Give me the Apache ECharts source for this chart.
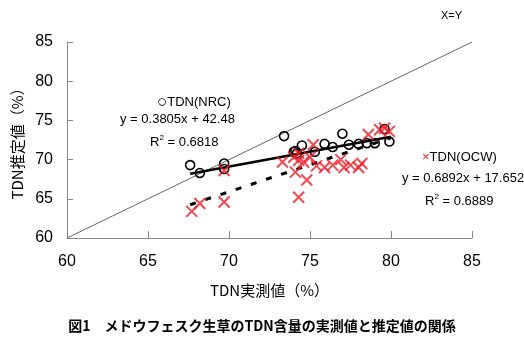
<!DOCTYPE html>
<html>
<head>
<meta charset="utf-8">
<script src="https://cdn.jsdelivr.net/npm/echarts@6/dist/echarts.min.js"></script>
<style>
  html, body { margin: 0; padding: 0; background: #fff; }
  #char { width: 524px; height: 354px; }
</style>
</head>
<body>
<div id="char"></div>
<script>
// TDN(NRC) : [実測値, 推定値]
var nrcData = [
  [67.6, 69.3], [68.2, 68.3], [69.7, 69.5], [69.7, 68.8],
  [73.4, 73.0], [74.0, 71.0], [74.2, 70.8], [74.5, 71.8],
  [74.1, 71.1], [75.3, 71.0], [75.9, 72.0], [76.4, 71.6],
  [77.0, 73.3], [77.4, 71.9], [78.0, 72.0], [78.5, 72.1],
  [79.0, 72.1], [79.6, 73.9], [79.9, 72.3]
];
// TDN(OCW)
var ocwData = [
  [67.7, 63.4], [68.2, 64.4], [69.7, 64.6], [69.7, 68.6],
  [73.3, 69.7], [74.0, 70.3], [74.3, 69.9], [74.3, 70.8],
  [74.1, 68.4], [74.8, 67.4], [74.3, 65.2], [74.6, 69.7],
  [75.0, 70.3], [75.2, 71.9], [75.4, 69.2], [75.9, 69.0],
  [76.4, 69.3], [76.9, 70.0], [77.1, 69.0], [77.5, 69.3],
  [78.0, 69.0], [78.2, 69.5], [78.6, 73.2], [79.3, 73.8],
  [79.6, 74.0], [79.9, 73.6]
];
var xyLine = [[60, 60], [85, 85]];
var nrcFit = [[67.6, 68.20], [80.0, 72.92]];
var ocwFit = [[67.6, 64.24], [80.0, 72.79]];
var axisTicks = [60, 65, 70, 75, 80, 85];

var font = "'Liberation Sans', Arial, 'Noto Sans CJK JP', sans-serif";
var jpFont = "'Noto Sans CJK JP', 'Liberation Sans', sans-serif";

var myChart = echarts.init(document.getElementById("char"));
var option = {
  animation: false,
  backgroundColor: "#fff",
  grid: { left: 67, right: 52, top: 42, bottom: 116 },
  xAxis: {
    type: "value",
    min: axisTicks[0],
    max: axisTicks[axisTicks.length - 1],
    interval: 5,
    name: "TDN実測値（%）",
    nameLocation: "middle",
    nameGap: 45,
    nameTextStyle: { color: "#000", fontSize: 15, fontFamily: jpFont },
    axisLine: { lineStyle: { color: "#888", width: 1 } },
    axisTick: { inside: true, length: 7, lineStyle: { color: "#888" } },
    axisLabel: { color: "#000", fontSize: 16, fontFamily: font, margin: 16 },
    splitLine: { show: false }
  },
  yAxis: {
    type: "value",
    min: axisTicks[0],
    max: axisTicks[axisTicks.length - 1],
    interval: 5,
    name: "TDN推定値（%）",
    nameLocation: "middle",
    nameGap: 42,
    nameRotate: 90,
    nameTextStyle: { color: "#000", fontSize: 15, fontFamily: jpFont },
    axisLine: { show: true, lineStyle: { color: "#888", width: 1 } },
    axisTick: { show: true, inside: true, length: 6, lineStyle: { color: "#888" } },
    axisLabel: { color: "#000", fontSize: 16, fontFamily: font, margin: 14 },
    splitLine: { show: false }
  },
  series: [
    {
      name: "X=Y",
      type: "line",
      data: xyLine,
      symbol: "none",
      lineStyle: { color: "#666", width: 1 },
      z: 1
    },
    {
      name: "NRC回帰",
      type: "line",
      data: nrcFit,
      symbol: "none",
      lineStyle: { color: "#000", width: 2.5 },
      z: 3
    },
    {
      name: "OCW回帰",
      type: "line",
      data: ocwFit,
      symbol: "none",
      lineStyle: { color: "#000", width: 3, type: [6, 10] },
      z: 3
    },
    {
      name: "TDN(NRC)",
      type: "scatter",
      data: nrcData,
      symbol: "circle",
      symbolSize: 9,
      itemStyle: { color: "rgba(0,0,0,0)", borderColor: "#000", borderWidth: 1.6, opacity: 1 },
      z: 4
    },
    {
      name: "TDN(OCW)",
      type: "scatter",
      data: ocwData,
      symbol: "path://M0,0L10,10M10,0L0,10",
      symbolSize: 11,
      itemStyle: { color: "none", borderColor: "#ee1c25", borderWidth: 2 },
      z: 5
    }
  ],
  graphic: [
    { type: "text", left: 441, top: 10, style: { text: "X=Y", fontSize: 11, fontFamily: font, fill: "#000" } },
    { type: "text", left: 157, top: 94, style: {
      text: "{c|○}TDN(NRC)", fontSize: 13, fontFamily: font, fill: "#000",
      rich: { c: { fontSize: 17, fontFamily: font } } } },
    { type: "text", left: 120, top: 113, style: { text: "y = 0.3805x + 42.48", fontSize: 13, fontFamily: font, fill: "#000" } },
    { type: "text", left: 150, top: 134, style: {
      text: "R{s|2} = 0.6818", fontSize: 13, fontFamily: font, fill: "#000",
      rich: { s: { fontSize: 8, verticalAlign: "top", padding: [0, 0, 8, 0] } } } },
    { type: "text", left: 422, top: 151, style: {
      text: "{x|×}TDN(OCW)", fontSize: 13, fontFamily: font, fill: "#000",
      rich: { x: { fill: "#ee1c25", fontSize: 13 } } } },
    { type: "text", left: 402, top: 172, style: { text: "y = 0.6892x + 17.652", fontSize: 13, fontFamily: font, fill: "#000" } },
    { type: "text", left: 425, top: 193, style: {
      text: "R{s|2} = 0.6889", fontSize: 13, fontFamily: font, fill: "#000",
      rich: { s: { fontSize: 8, verticalAlign: "top", padding: [0, 0, 8, 0] } } } },
    { type: "text", left: "center", top: 319, style: {
      text: "図1　メドウフェスク生草のTDN含量の実測値と推定値の関係",
      fontSize: 14, fontWeight: "bold", fontFamily: jpFont, fill: "#000" } }
  ]
};
myChart.setOption(option);
</script>
</body>
</html>
